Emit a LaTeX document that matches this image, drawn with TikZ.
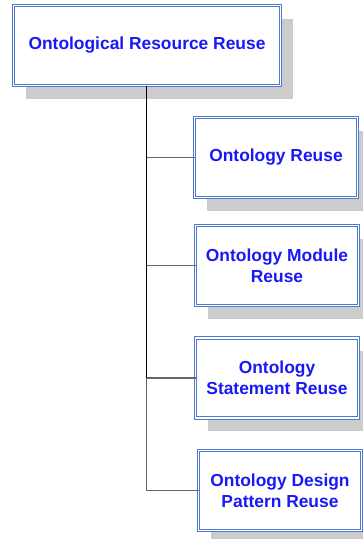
\documentclass[tikz,border=0pt]{standalone}
\usepackage{fontspec}
\setmainfont{Liberation Sans}
\usetikzlibrary{shadows}
\definecolor{frameblue}{RGB}{80,120,205}
\definecolor{textblue}{RGB}{25,25,245}
\definecolor{shadowgray}{RGB}{204,204,204}
\tikzset{
  x=1pt, y=-1pt,
  topicbox/.style={
    draw=frameblue, line width=0.9pt, double=white, double distance=1.3pt,
    fill=white, inner sep=2pt, outer sep=0pt, align=center,
    text=textblue, font=\bfseries\fontsize{17.4}{21}\selectfont,
    drop shadow={shadow xshift=12pt, shadow yshift=-13pt, fill=shadowgray, opacity=1, draw=none}
  },
  rootbox/.style={topicbox, minimum width=267pt, minimum height=80pt},
  childbox/.style={topicbox, minimum width=163pt, minimum height=80pt},
  trunk/.style={draw=black, line width=1.4pt},
  branch/.style={draw=black!60, line width=1.2pt}
}
\begin{document}
\begin{tikzpicture}
\useasboundingbox (0,0) rectangle (363,539);

% x position of the vertical trunk
\coordinate (t0) at (146.5,87);

\node[rootbox]  (root) at (147,45.5)  {Ontological Resource Reuse};
\node[childbox] (c1)   at (276,157.5) {Ontology Reuse};
\node[childbox] (c2)   at (277,265.5) {Ontology Module\\Reuse};
\node[childbox] (c3)   at (277,378)   {Ontology\\Statement Reuse};
\node[childbox] (c4)   at (280,490.5) {Ontology Design\\Pattern Reuse};

% elbow connectors from the root to each child
\draw[branch] (root.south -| t0) |- (c1.west);
\draw[branch] (root.south -| t0) |- (c2.west);
\draw[branch] (root.south -| t0) |- (c3.west);
\draw[branch] (root.south -| t0) |- (c4.west);
\draw[trunk] (root.south -| t0) -- (c3.west -| t0);
\end{tikzpicture}
\end{document}
